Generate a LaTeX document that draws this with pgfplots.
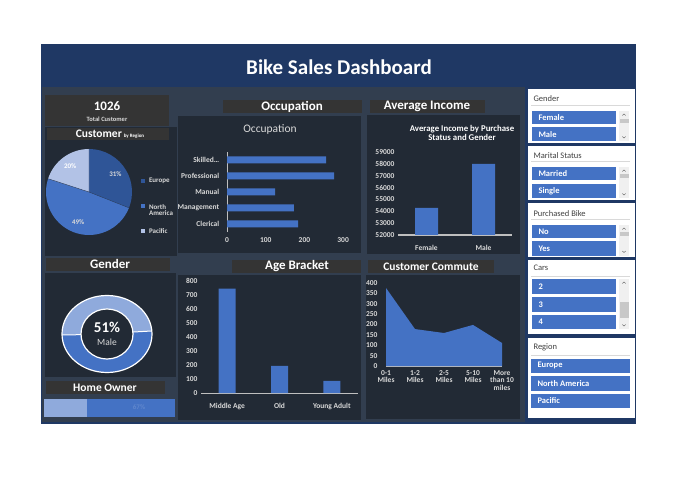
\documentclass[border=0pt]{standalone}
\usepackage{pgfplots}
\pgfplotsset{compat=1.18}
\usepackage{fontspec}
\setmainfont{Carlito}
\definecolor{hdr}{RGB}{31,56,100}
\definecolor{body}{RGB}{50,62,79}
\definecolor{panel}{RGB}{34,42,53}
\definecolor{tbar}{RGB}{52,52,52}
\definecolor{bar}{RGB}{68,114,196}
\definecolor{barD}{RGB}{47,85,151}
\definecolor{barL}{RGB}{143,170,220}
\definecolor{pacL}{RGB}{178,194,230}
\definecolor{tick}{RGB}{217,217,217}
\definecolor{axl}{RGB}{191,191,191}
\definecolor{slhead}{RGB}{64,64,64}
\definecolor{scr}{RGB}{240,240,240}
\definecolor{thumb}{RGB}{200,200,200}
\newcommand{\fs}[1]{\fontsize{#1}{#1}\selectfont}
\pgfplotsset{
  /pgf/number format/assume math mode=true,
  dash/.style={scale only axis, anchor=south west,
    tick label style={font=\fs{7.5}\bfseries, text=tick},
    scaled ticks=false,
    /pgf/number format/set thousands separator={}},
}
\begin{document}
\begin{tikzpicture}
\begin{scope}[x=1pt,y=-1pt]
\path[use as bounding box] (0,0) rectangle (680,481);
\fill[white] (0,0) rectangle (680,481);
% body
\fill[body, draw=hdr, line width=1.5pt] (41.5,86) rectangle (526,423);
\fill[hdr] (41,44) rectangle (636,87);
\node[white,font=\fs{21}\bfseries] at (339,67) {Bike Sales Dashboard};
% slicer column
\fill[hdr] (526,87) rectangle (636,424);
% ---------- left column
\fill[tbar] (45,95) rectangle (169,126);
\node[white,font=\fs{13}\bfseries] at (107,106) {1026};
\node[tick,font=\fs{6.5}\bfseries] at (107,119) {Total Customer};
\fill[panel] (45,127) rectangle (177,256);
\fill[tbar] (47,128.5) rectangle (169,140.5);
\node[white,font=\fs{11.5}\bfseries] at (110,134.5) {Customer\,{\fs{5}by Region}};
% pie
\begin{scope}[shift={(89,192)}, y=1pt]
\fill[barD] (0,0) -- (90:43pt) arc[start angle=90, end angle=-21.6, radius=43pt] -- cycle;
\fill[bar] (0,0) -- (-21.6:43pt) arc[start angle=-21.6, end angle=-198, radius=43pt] -- cycle;
\fill[pacL] (0,0) -- (-198:43pt) arc[start angle=-198, end angle=-270, radius=43pt] -- cycle;
\draw[panel!70!bar, line width=0.4pt] (0,0) -- (90:43pt) (0,0) -- (-21.6:43pt) (0,0) -- (-198:43pt);
\node[tick,font=\fs{7}\bfseries] at (34.2:32pt) {31\%};
\node[tick,font=\fs{7}\bfseries] at (-109.8:32pt) {49\%};
\node[white,font=\fs{7}\bfseries] at (126:32pt) {20\%};
\end{scope}
\fill[barD] (140.5,179) rectangle (144.5,183);
\fill[bar] (140.5,204) rectangle (144.5,208);
\fill[pacL] (140.5,229) rectangle (144.5,233);
\node[tick,font=\fs{7}\bfseries,anchor=west] at (145.5,181) {Europe};
\node[tick,font=\fs{7}\bfseries,anchor=west,align=left] at (145.5,210.5) {North\\[-1pt]America};
\node[tick,font=\fs{7}\bfseries,anchor=west] at (145.5,231) {Pacific};
% gender
\fill[tbar] (46,258) rectangle (170,270.5);
\node[white,font=\fs{13}\bfseries] at (110,264) {Gender};
\fill[panel] (45,273) rectangle (176,377);
\begin{scope}[shift={(107,334)}, y=1pt]
\fill[barL] (0,0) ellipse[x radius=45pt, y radius=38.5pt];
\fill[bar] (0,0) -- (181.5:45pt and 38.5pt) arc[start angle=181.5, end angle=364.5, x radius=45pt, y radius=38.5pt] -- cycle;
\fill[panel] (0,0) ellipse[x radius=26pt, y radius=25pt];
\draw[white, line width=1.2pt] (0,0) ellipse[x radius=45pt, y radius=38.5pt];
\draw[white, line width=1.2pt] (0,0) ellipse[x radius=26pt, y radius=25pt];
\draw[white, line width=1pt] (181.5:26pt and 25pt) -- (181.5:45pt and 38.5pt) (364.5:26pt and 25pt) -- (364.5:45pt and 38.5pt);
\end{scope}
\node[white,font=\fs{15}\bfseries] at (107,327) {51\%};
\node[tick,font=\fs{9.5}] at (107,342) {Male};
% home owner
\fill[tbar] (46,381) rectangle (165,393.5);
\node[white,font=\fs{11.5}\bfseries] at (105,387.5) {Home Owner};
% ---------- occupation
\fill[tbar] (223,100) rectangle (362,113);
\node[white,font=\fs{13}\bfseries] at (292,106.5) {Occupation};
\fill[panel] (178,116) rectangle (361,253);
\node[tick,font=\fs{11.5}] at (270,129) {Occupation};
% ---------- average income
\fill[tbar] (370,100) rectangle (485,113);
\node[white,font=\fs{13}\bfseries] at (427,106.5) {Average Income};
\fill[panel] (367,115) rectangle (520,254);
\node[white,font=\fs{8.8}\bfseries,align=center] at (462,133) {Average Income by Purchase\\[1pt]Status and Gender};
% ---------- age bracket
\fill[tbar] (232,260) rectangle (361,272.5);
\node[white,font=\fs{13}\bfseries] at (297,266) {Age Bracket};
\fill[panel] (178,275) rectangle (361,420);
% ---------- commute
\fill[tbar] (368,260) rectangle (494,273);
\node[white,font=\fs{11.5}\bfseries] at (431,266.5) {Customer Commute};
\fill[panel] (366,275) rectangle (520,419);
% ---------- slicers
\foreach \ya/\yb in {89/143, 146/200, 203/257, 260/334, 338/418} {
  \fill[white] (527.5,\ya) rectangle (634.5,\yb);
}
\foreach \t/\y in {Gender/99, Marital Status/155.5, Purchased Bike/213.5, Cars/268, Region/347} {
  \node[slhead,font=\fs{8.5},anchor=west] at (530,\y) {\t};
}
\foreach \y in {105, 161.5, 219.5, 276, 355} {
  \draw[black!15, line width=0.8pt] (531,\y) -- (630,\y);
}
% items with scrollbars
\foreach \t/\ya/\yb in {Female/111/124.5, Male/127.5/141, Married/167/180.5, Single/184/198, No/225/238.5, Yes/241.5/255.5, 2/279/294, 3/297/312, 4/314.5/329} {
  \fill[bar] (532,\ya) rectangle (616,\yb);
  \node[white,font=\fs{8.5}\bfseries,anchor=west] at (535,{(\ya+\yb)/2}) {\t};
}
\foreach \ya/\yb/\ta/\tb in {111/141/119/123, 167/198/174/178, 225/255.5/232/236, 279/329/302/318} {
  \fill[scr] (619,\ya) rectangle (629,\yb);
  \fill[thumb] (619.5,\ta) rectangle (628.5,\tb);
  \draw[black!55, line width=0.5pt] (622.3,{\ya+4.5}) -- (624,{\ya+3}) -- (625.7,{\ya+4.5});
  \draw[black!55, line width=0.5pt] (622.3,{\yb-4.5}) -- (624,{\yb-3}) -- (625.7,{\yb-4.5});
}
\foreach \t/\ya/\yb in {Europe/358.5/373, North America/376/391, Pacific/393.5/408} {
  \fill[bar] (531,\ya) rectangle (629.5,\yb);
  \node[white,font=\fs{8.5}\bfseries,anchor=west] at (534,{(\ya+\yb)/2}) {\t};
}
\end{scope}

% ===================== charts
% home owner stacked bar
\begin{axis}[dash, at={(44pt,-416.5pt)}, width=131pt, height=18pt,
  xbar stacked, bar width=18pt, xmin=0, xmax=100, ymin=-0.5, ymax=0.5,
  hide axis, enlargelimits=false]
\addplot[fill=barL, draw=none] coordinates {(33,0)};
\addplot[fill=bar, draw=none] coordinates {(67,0)};
\end{axis}
\node[font=\fs{7}\bfseries, text=bar!85!white] at (139pt,-407.5pt) {67\%};

% occupation
\begin{axis}[dash, at={(227pt,-232pt)}, width=120pt, height=80pt,
  xbar, bar width=7pt, xmin=0, xmax=310, ymin=-0.5, ymax=4.5,
  axis x line*=bottom, x axis line style={draw=none}, xtick style={draw=none},
  xtick={0,100,200,300},
  axis y line*=left, y axis line style={axl, line width=0.8pt},
  ytick={0,1,2,3,4}, ytick style={draw=none},
  yticklabels={Clerical,Management,Manual,Professional,{Skilled\ldots}},
  extra y ticks={-0.5,0.5,1.5,2.5,3.5,4.5}, extra y tick labels={},
  extra y tick style={tick style={draw=axl, line width=0.8pt}, major tick length=3pt, tick align=outside},
  xticklabel style={yshift=-2pt}]
\addplot[fill=bar, draw=none] coordinates {(184,0) (173,1) (124,2) (277,3) (256,4)};
\end{axis}

% average income
\begin{axis}[dash, at={(398pt,-235pt)}, width=114pt, height=83pt,
  ybar, bar width=23pt, xmin=-0.5, xmax=1.5, ymin=52000, ymax=59000,
  axis x line*=bottom, x axis line style={axl, line width=1.2pt}, xtick style={draw=none},
  xtick={0,1}, xticklabels={Female,Male},
  axis y line*=left, y axis line style={draw=none}, ytick style={draw=none},
  ytick={52000,53000,54000,55000,56000,57000,58000,59000}, yticklabel style={font=\fs{7.5}\bfseries},
  xticklabel style={yshift=-2pt}, clip=true]
\addplot[fill=bar, draw=none] coordinates {(0,54280) (1,57990)};
\end{axis}

% age bracket
\begin{axis}[dash, at={(201pt,-393pt)}, width=157pt, height=112pt,
  ybar, bar width=17pt, xmin=-0.5, xmax=2.5, ymin=0, ymax=800,
  axis x line*=bottom, x axis line style={axl, line width=1pt}, xtick style={draw=none},
  xtick={0,1,2}, xticklabels={Middle Age,Old,Young Adult},
  axis y line*=left, y axis line style={draw=none}, ytick style={draw=none},
  ytick={0,100,200,300,400,500,600,700,800}, xticklabel style={yshift=-2pt}]
\addplot[fill=bar, draw=none] coordinates {(0,746) (1,193) (2,87)};
\end{axis}

% commute
\begin{axis}[dash, at={(386pt,-366pt)}, width=116pt, height=83pt,
  xmin=0, xmax=4, ymin=0, ymax=400,
  axis x line*=bottom, x axis line style={axl, line width=1pt}, xtick style={draw=none},
  xtick={0,1,2,3,4}, xticklabels={{0-1\\Miles},{1-2\\Miles},{2-5\\Miles},{5-10\\Miles},{More\\than 10\\miles}},
  xticklabel style={align=center, yshift=-1pt},
  axis y line*=left, y axis line style={draw=none}, ytick style={draw=none},
  ytick={0,50,100,150,200,250,300,350,400}, yticklabel style={xshift=-5pt}]
\addplot[fill=bar, draw=none] coordinates {(0,376) (1,178) (2,159) (3,198) (4,111)} \closedcycle;
\end{axis}
\end{tikzpicture}
\end{document}
